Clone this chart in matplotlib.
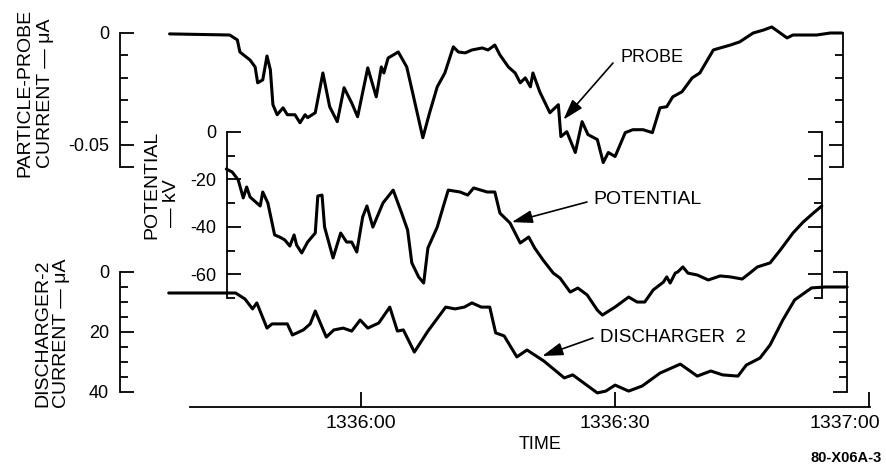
import matplotlib
matplotlib.use('Agg')
import matplotlib.pyplot as plt
from matplotlib.transforms import ScaledTranslation

plt.rcParams['font.family'] = ['Liberation Sans', 'DejaVu Sans']
plt.rcParams['axes.unicode_minus'] = False

# ---------------- data (time in s relative to 13:36:00) ----------------
probe_t = [-22.6, -15.5, -14.6, -14.3, -13.1, -12.5, -12.2, -11.6, -11.1, -10.7, -10.4, -9.9, -9.2, -8.7,
           -7.8, -7.2, -6.6, -6.3, -5.4, -4.5, -3.7, -2.8, -2.0, -1.1, -0.4, 0.8, 1.8, 2.4, 2.7, 3.2,
           4.4, 5.4, 6.1, 7.3, 8.1, 9.0, 9.9, 10.9, 11.5, 12.3, 13.1, 14.3, 15.0, 15.8, 16.4, 17.4,
           18.2, 18.8, 19.4, 20.0, 20.3, 21.1, 22.3, 23.3, 23.6, 24.3, 25.3, 26.1, 26.8, 27.9, 28.6,
           29.2, 30.0, 31.2, 32.1, 33.3, 34.4, 35.3, 36.1, 36.8, 37.9, 39.1, 40.0, 41.6, 42.4, 43.6,
           44.7, 46.3, 47.5, 48.5, 50.3, 51.0, 53.8, 55.4, 56.8]
probe_ua = [-0.0004, -0.0009, -0.0031, -0.0085, -0.0121, -0.0152, -0.0223, -0.0210, -0.0103, -0.0165,
            -0.0321, -0.0366, -0.0335, -0.0366, -0.0366, -0.0402, -0.0366, -0.0379, -0.0357, -0.0179,
            -0.0330, -0.0397, -0.0245, -0.0313, -0.0375, -0.0156, -0.0286, -0.0152, -0.0179, -0.0112,
            -0.0085, -0.0152, -0.0268, -0.0469, -0.0357, -0.0241, -0.0179, -0.0062, -0.0085, -0.0089,
            -0.0076, -0.0067, -0.0076, -0.0054, -0.0098, -0.0152, -0.0179, -0.0223, -0.0201, -0.0241,
            -0.0179, -0.0263, -0.0357, -0.0321, -0.0464, -0.0442, -0.0535, -0.0397, -0.0455, -0.0477,
            -0.0580, -0.0535, -0.0553, -0.0446, -0.0433, -0.0433, -0.0446, -0.0335, -0.0330, -0.0286,
            -0.0263, -0.0201, -0.0179, -0.0076, -0.0067, -0.0054, -0.0040, 0.0000, 0.0013, 0.0027,
            -0.0022, -0.0009, -0.0009, 0.0000, 0.0000]

pot_t = [-15.9, -15.2, -14.5, -13.9, -13.5, -13.1, -11.9, -11.6, -11.0, -10.2, -9.6, -9.0, -8.4, -7.9,
         -7.6, -7.0, -6.3, -5.4, -5.1, -4.6, -4.3, -3.3, -2.4, -1.7, -1.1, -0.5, 0.2, 0.7, 1.4, 2.6,
         3.8, 4.8, 5.5, 6.0, 6.8, 7.4, 7.9, 9.0, 9.7, 10.3, 11.7, 12.6, 13.3, 14.9, 15.8, 16.4, 17.6,
         18.8, 19.8, 20.5, 21.5, 22.7, 23.5, 24.7, 25.6, 26.7, 27.9, 28.5, 30.0, 31.6, 32.6, 33.5,
         34.5, 35.7, 36.1, 36.5, 37.1, 37.4, 38.0, 38.6, 39.7, 41.0, 42.4, 43.6, 45.0, 45.9, 46.8,
         48.3, 49.5, 51.0, 52.2, 53.4, 54.4]
pot_kv = [-15.6, -16.9, -20.2, -27.8, -23.2, -27.4, -31.2, -25.3, -29.9, -43.4, -44.3, -45.5, -48.1,
          -43.4, -47.7, -51.0, -46.4, -42.6, -27.0, -26.6, -40.1, -53.1, -42.6, -46.4, -46.4, -50.6,
          -35.8, -31.2, -40.1, -29.9, -24.5, -34.2, -41.3, -55.2, -61.1, -63.7, -48.9, -40.1, -31.6,
          -24.5, -25.3, -26.6, -23.6, -25.3, -25.3, -34.2, -38.4, -46.8, -44.3, -48.9, -54.0, -59.5,
          -61.6, -67.5, -65.8, -68.7, -75.1, -77.2, -73.8, -69.6, -71.7, -71.7, -66.6, -63.3, -61.1,
          -63.7, -59.5, -59.0, -56.9, -59.5, -60.3, -62.4, -60.7, -61.1, -62.0, -59.5, -56.9, -55.2,
          -49.8, -42.6, -38.0, -34.2, -31.2]

dis_t = [-22.7, -14.8, -13.7, -12.8, -12.3, -11.1, -10.5, -8.7, -8.1, -6.8, -6.0, -5.4, -4.1, -3.2,
         -2.1, -1.1, -0.1, 0.8, 2.1, 3.4, 4.3, 5.0, 6.3, 7.9, 10.0, 11.1, 12.2, 13.1, 14.2, 15.2,
         15.9, 16.9, 18.4, 19.6, 21.6, 24.0, 25.0, 27.9, 28.9, 30.0, 31.6, 33.2, 35.3, 37.7, 39.7,
         41.3, 42.7, 44.5, 45.5, 47.1, 48.3, 49.8, 51.2, 53.2, 54.8, 57.4]
dis_ua = [7.0, 7.0, 9.0, 12.3, 10.3, 18.7, 17.3, 17.3, 21.0, 19.3, 17.3, 13.0, 21.7, 19.3, 18.7, 19.7,
          16.0, 18.7, 17.0, 11.7, 19.7, 19.3, 26.7, 19.7, 11.7, 12.3, 11.7, 10.3, 11.7, 11.7, 20.3,
          21.3, 28.3, 26.0, 29.7, 35.3, 34.3, 40.3, 39.7, 37.7, 39.7, 38.0, 33.7, 30.7, 34.7, 33.0,
          34.3, 34.7, 31.0, 28.7, 24.3, 16.0, 9.3, 5.3, 5.0, 5.0]

probe_major = [0, -0.05, -0.06]
probe_labels = ['0', '-0.05', '']
probe_minor = [-0.01, -0.02, -0.03, -0.04]
pot_major = [0, -20, -40, -60]
pot_labels = ['0', '-20', '-40', '-60']
pot_minor = [-10, -30, -50, -70]
dis_major = [0, 20, 40]
dis_labels = ['0', '20', '40']
dis_minor = [5, 10, 15, 25, 30, 35]
time_ticks = [0, 30, 60]
time_labels = ['1336:00', '1336:30', '1337:00']

# ---------------- layout ----------------
W, H = 886, 475
fig = plt.figure(figsize=(W / 100, H / 100), dpi=100)
X0, PXS = 361.0, 8.47   # pixel of 13:36:00 and pixels per second
LW = 1.3


def add(x0, x1, y0, y1):
    ax = fig.add_axes([x0 / W, 1 - y1 / H, (x1 - x0) / W, (y1 - y0) / H])
    ax.patch.set_visible(False)
    ax.set_xlim((x0 - X0) / PXS, (x1 - X0) / PXS)
    return ax


def bracket(ax, major, labels, minor, ylim):
    ax.set_ylim(*ylim)
    for s in ['top', 'bottom']:
        ax.spines[s].set_visible(False)
    for s in ['left', 'right']:
        ax.spines[s].set_linewidth(LW)
    ax.set_xticks([])
    ax.set_yticks(major, labels=labels)
    ax.set_yticks(minor, minor=True)
    ax.tick_params(axis='y', which='both', direction='in', left=True, right=True,
                   width=LW, labelsize=13, pad=8)
    ax.tick_params(axis='y', which='major', length=10)
    ax.tick_params(axis='y', which='minor', length=6)


def curve(ax, t, v):
    ax.plot(t, v, color='black', lw=2.2, clip_on=False, solid_joinstyle='round',
            solid_capstyle='round')


ax_p = add(120, 843, 33, 167)
bracket(ax_p, probe_major, probe_labels, probe_minor, (-0.06, 0))
curve(ax_p, probe_t, probe_ua)

ax_v = add(227, 822, 132, 298)
bracket(ax_v, pot_major, pot_labels, pot_minor, (-70, 0))
curve(ax_v, pot_t, pot_kv)

ax_d = add(120, 847, 272, 392)
bracket(ax_d, dis_major, dis_labels, dis_minor, (40, 0))
curve(ax_d, dis_t, dis_ua)

ax_t = add(190, 870, 392, 407)
for s in ['top', 'left', 'right']:
    ax_t.spines[s].set_visible(False)
ax_t.spines['bottom'].set_linewidth(LW)
ax_t.set_yticks([])
ax_t.set_xticks(time_ticks, labels=time_labels)
ax_t.tick_params(axis='x', direction='in', length=11, width=LW, labelsize=14, pad=6)
last = ax_t.get_xticklabels()[-1]
last.set_transform(last.get_transform() + ScaledTranslation(-0.24, 0, fig.dpi_scale_trans))
ax_t.set_xlabel('TIME', fontsize=13)
ax_t.xaxis.set_label_coords((540 - 190) / 680, -(436 - 407) / 15)
ax_t.xaxis.label.set_va('top')

# axis titles
fig.text(35 / W, 1 - 93 / H, 'PARTICLE-PROBE\nCURRENT — μA', rotation=90, ha='center', va='center',
         multialignment='center', fontsize=14, linespacing=1.25)
fig.text(52 / W, 1 - 333 / H, 'DISCHARGER-2\nCURRENT — μA', rotation=90, ha='center', va='center',
         multialignment='center', fontsize=14, linespacing=1.15)
fig.text(152 / W, 1 - 185 / H, 'POTENTIAL', rotation=90, ha='center', va='center', fontsize=14)
fig.text(172 / W, 1 - 203 / H, '— kV', rotation=90, ha='center', va='center', fontsize=14)

# annotations
arrow = dict(arrowstyle='-|>,head_length=0.9,head_width=0.28', color='black', lw=1.2,
             shrinkA=0, shrinkB=0, mutation_scale=14)
ax_p.annotate('', xy=(23.9, -0.0388), xycoords='data', xytext=(613 / W, 1 - 63 / H),
              textcoords='figure fraction', arrowprops=arrow)
fig.text(620 / W, 1 - 57 / H, 'PROBE', ha='left', va='center', fontsize=13)
ax_v.annotate('', xy=(17.8, -38.0), xycoords='data', xytext=(587 / W, 1 - 202 / H),
              textcoords='figure fraction', arrowprops=arrow)
fig.text(593 / W, 1 - 200 / H, 'POTENTIAL', ha='left', va='center', fontsize=14)
ax_d.annotate('', xy=(21.4, 28.0), xycoords='data', xytext=(593 / W, 1 - 338 / H),
              textcoords='figure fraction', arrowprops=arrow)
fig.text(600 / W, 1 - 338 / H, 'DISCHARGER  2', ha='left', va='center', fontsize=13.5)

fig.text(882 / W, 1 - 458 / H, '80-X06A-3', ha='right', va='center', fontsize=10.5,
         fontweight='bold')

fig.savefig('out.png', dpi=100)
